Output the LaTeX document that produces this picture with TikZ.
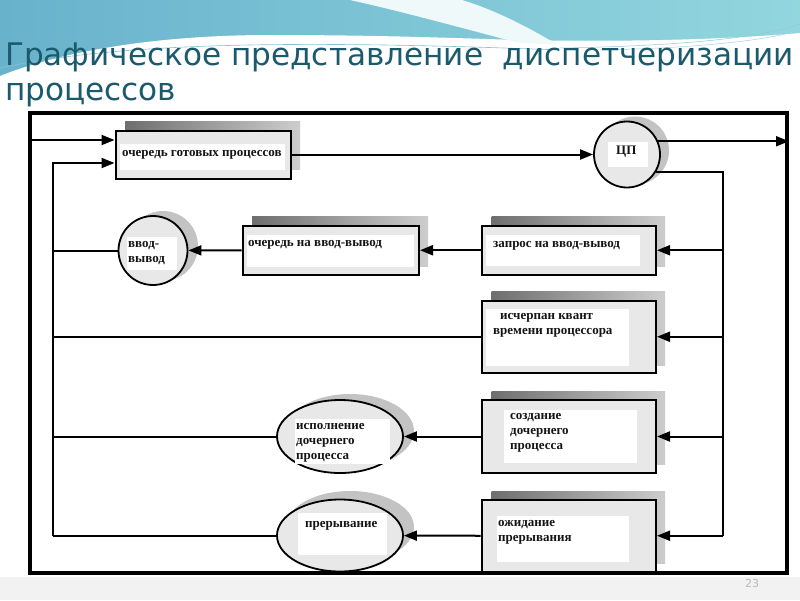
\documentclass[tikz,border=0pt]{standalone}
\usepackage{fontspec}
\newfontfamily\titlefont{DejaVu Sans}
\newfontfamily\boxfont{Liberation Serif}
\usetikzlibrary{shapes.geometric,arrows.meta,calc}
\definecolor{titlecol}{RGB}{26,90,108}
\definecolor{waveA}{RGB}{104,178,204}
\definecolor{waveB}{RGB}{146,214,222}
\definecolor{boxgray}{RGB}{232,232,232}
\definecolor{shdark}{RGB}{110,110,110}
\definecolor{shlight}{RGB}{205,205,205}
\definecolor{circsh}{RGB}{195,195,195}
\definecolor{bottomgray}{RGB}{242,242,242}
\tikzset{
  conn/.style={line width=2pt},
  arr/.style={conn, -{Triangle[length=13pt,width=10pt]}},
  qbox/.style={draw, line width=2pt, fill=boxgray, rectangle, inner sep=0pt},
  qcirc/.style={draw, line width=1.8pt, fill=boxgray, circle, inner sep=0pt},
  qell/.style={draw, line width=1.8pt, fill=boxgray, ellipse, inner sep=0pt},
  boxshadow/.style={left color=shdark, right color=shlight},
  lbl/.style={font=\boxfont\bfseries\fontsize{13}{15}\selectfont, inner sep=0pt, text=black!92, align=left},
}
\begin{document}
\begin{tikzpicture}[x=1pt,y=-1pt]
\useasboundingbox (0,0) rectangle (800,600);
% background
\fill[white] (0,0) rectangle (800,600);
\shade[left color=waveA, right color=waveB] (0,0) rectangle (800,80);
\fill[white] (0,76) .. controls (70,48) and (170,35) .. (270,35) .. controls (380,35) and (450,38) .. (520,40) .. controls (620,42) and (720,40) .. (800,33) -- (800,120) -- (0,120) -- cycle;
\fill[white!85!waveB] (350,0) .. controls (395,10) and (440,22) .. (515,42) .. controls (535,44) and (550,44) .. (556,44) .. controls (530,28) and (495,10) .. (462,0) -- cycle;
\draw[waveA!80, line width=0.6pt] (0,68) .. controls (120,42) and (300,40) .. (560,50);
\draw[waveA!70, line width=0.5pt] (560,48) .. controls (680,46) and (760,38) .. (800,24);
\draw[waveA!60, line width=0.5pt] (600,50) .. controls (700,48) and (770,40) .. (800,30);
\fill[bottomgray] (0,577) rectangle (800,600);
% title
\node[anchor=base west, font=\titlefont\fontsize{31.1}{31}\selectfont, text=titlecol, inner sep=0pt] (title1) at (5,65) {Графическое представление\ \ диспетчеризации};
\node[anchor=base west, font=\titlefont\fontsize{31.1}{31}\selectfont, text=titlecol, inner sep=0pt] (title2) at (5,100) {процессов};
\node[anchor=base, font=\titlefont\fontsize{11}{11}\selectfont, text=gray!55, inner sep=0pt] (slideno) at (752,587) {23};
% frame
\node[draw, line width=4pt, minimum width=757, minimum height=460, inner sep=0pt] (frame) at (408.5,343) {};
% shadows
\shade[boxshadow] (125,121.5) rectangle (300,169);
\shade[boxshadow] (491.5,216.5) rectangle (665,266.5);
\shade[boxshadow] (252,216.5) rectangle (428,266.5);
\shade[boxshadow] (491.5,291.5) rectangle (665,365);
\shade[boxshadow] (491.5,391) rectangle (665,464.5);
\shade[boxshadow] (491.5,491) rectangle (665,563);
\fill[circsh] (635,150.5) circle (34);
\fill[circsh] (163,246) circle (35);
\fill[circsh] (350,431) ellipse (64 and 37);
\fill[circsh] (350,527) ellipse (64 and 36);
% nodes
\node[qbox, minimum width=175.5, minimum height=48] (q1) at (203.25,154.5) {};
\node[qcirc, minimum size=66] (cpu) at (627,154.5) {};
\node[qbox, minimum width=174.5, minimum height=49.5] (q2) at (568.75,250.25) {};
\node[qbox, minimum width=176.5, minimum height=49.5] (q3) at (330.75,250.25) {};
\node[qcirc, minimum size=69] (io) at (153,250.5) {};
\node[qbox, minimum width=174.5, minimum height=72.5] (q4) at (568.75,336.75) {};
\node[qbox, minimum width=174.5, minimum height=73] (q5) at (568.75,436.5) {};
\node[qell, minimum width=126, minimum height=73] (e1) at (340,436.5) {};
\node[qbox, minimum width=174.5, minimum height=72.5] (q6) at (568.75,535.75) {};
\node[qell, minimum width=126, minimum height=72] (e2) at (340,535.5) {};
% inner white areas
\fill[white] (120,144) rectangle (285,170);
\fill[white] (608,142) rectangle (648,167);
\fill[white] (486,235) rectangle (640,266);
\fill[white] (247,235) rectangle (414,267);
\fill[white] (127,237) rectangle (177,270);
\fill[white] (486,309) rectangle (629,366);
\fill[white] (504,410) rectangle (637,463);
\fill[white] (295,419) rectangle (390,464);
\fill[white] (497,516) rectangle (629,562);
\fill[white] (298,513) rectangle (387,555);
% texts
\node[lbl, anchor=west] (t1) at (122,155) {очередь готовых процессов};
\node[lbl, anchor=west] (tcpu) at (616,152) {ЦП};
\node[lbl, anchor=west] (t2) at (493,246) {запрос на ввод-вывод};
\node[lbl, anchor=west] (t3) at (248,245) {очередь на ввод-вывод};
\node[lbl, anchor=north west] (tio) at (128,241) {ввод-\\вывод};
\node[lbl, anchor=north west] (t4) at (493,313) {\hspace*{7pt}исчерпан квант\\времени процессора};
\node[lbl, anchor=north west] (t5) at (510,413) {создание\\дочернего\\процесса};
\node[lbl, anchor=north west] (te1) at (296,423) {исполнение\\дочернего\\процесса};
\node[lbl, anchor=north west] (t6) at (498,520) {ожидание\\прерывания};
\node[lbl, anchor=west] (te2) at (305,526) {прерывание};
% coordinates
\coordinate (in1) at (30,140);
\coordinate (lbtop) at (53,163);
\coordinate (lbus) at (53,536);
\coordinate (bus) at (723,536);
% connectors
\draw[arr] (in1) -- (in1 -| q1.west);
\draw[arr] (lbus) -- (lbtop) -- (lbtop -| q1.west);
\draw[arr] (q1.east) -- (cpu);
\draw[arr] (cpu.23) -- (cpu.23 -| frame.east);
\draw[conn] (cpu.-31) -| (bus);
\draw[arr] (bus |- q2.east) -- (q2.east);
\draw[arr] (q2.west) -- (q3.east);
\draw[arr] (q3.west) -- (io);
\draw[conn] (io.west) -- (io.west -| lbus);
\draw[arr] (bus |- q4.east) -- (q4.east);
\draw[conn] (q4.west) -- (q4.west -| lbus);
\draw[arr] (bus |- q5.east) -- (q5.east);
\draw[arr] (q5.west) -- (e1);
\draw[conn] (e1.west) -- (e1.west -| lbus);
\draw[arr] (bus |- q6.east) -- (q6.east);
\draw[arr] (q6.west) -- (e2);
\draw[conn] (e2.west) -- (e2.west -| lbus);
\end{tikzpicture}
\end{document}
